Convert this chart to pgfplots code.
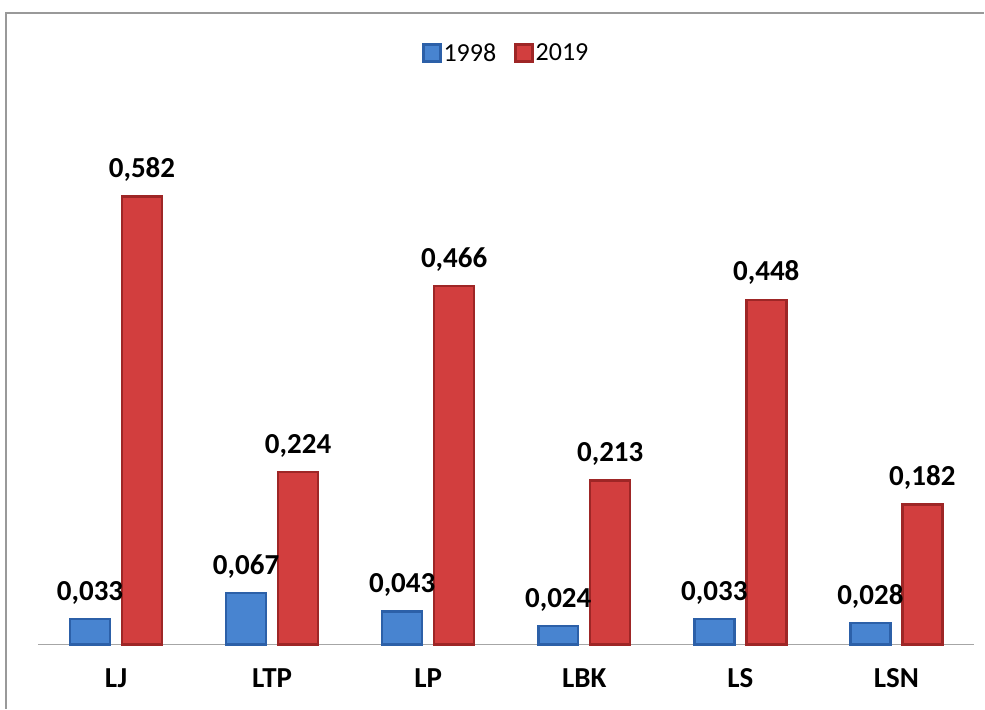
\documentclass[border=0pt]{standalone}
\usepackage{fontspec}
\setmainfont{Carlito}
\usepackage{pgfplots}
\pgfplotsset{compat=1.18}

\definecolor{bluemain}{RGB}{72,132,208}
\definecolor{bluedark}{RGB}{44,96,168}
\definecolor{redmain}{RGB}{210,62,62}
\definecolor{reddark}{RGB}{158,38,38}

\begin{document}
\begin{tikzpicture}[x=1pt,y=1pt]
    % page extent and chart frame
    \path (0,0) rectangle (985,709);
    \draw[gray!80, line width=1.2pt] (6,0) -- (6,696) -- (985,696);

    \begin{axis}[
        at={(38pt,64pt)}, anchor=south west,
        scale only axis,
        width=937pt, height=539pt,
        xmin=-0.5, xmax=5.5,
        ymin=0, ymax=0.7,
        axis x line*=bottom,
        axis y line=none,
        x axis line style={gray!70, line width=1pt, -},
        xtick={0,...,5},
        xticklabels={LJ,LTP,LP,LBK,LS,LSN},
        major tick length=0pt,
        xticklabel style={font=\fontsize{29}{32}\selectfont\bfseries, anchor=base, yshift=-43pt},
        ytick=\empty,
        ybar=12pt,
        bar width=40pt,
        nodes near coords,
        /pgf/number format/.cd, fixed, precision=3, zerofill, use comma, assume math mode=true,
        /pgfplots/.cd,
        every node near coord/.append style={font=\fontsize{29}{32}\selectfont\bfseries,
            anchor=base, inner sep=0pt, yshift=19pt, text=black},
        legend style={at={(0.5,1.098)}, anchor=center, draw=none,
            font=\fontsize{26}{30}\selectfont, legend columns=-1,
            /tikz/every even column/.append style={column sep=16pt}},
        legend image code/.code={
            \fill[#1] (0pt,-8.5pt) rectangle (17pt,8.5pt);
        },
        clip=false,
    ]
        \addplot[fill=bluemain, draw=bluedark, line width=2.5pt]
            coordinates {(0,0.033) (1,0.067) (2,0.043) (3,0.024) (4,0.033) (5,0.028)};
        \addplot[fill=redmain, draw=reddark, line width=2.5pt]
            coordinates {(0,0.582) (1,0.224) (2,0.466) (3,0.213) (4,0.448) (5,0.182)};
        \legend{1998,2019}
    \end{axis}
\end{tikzpicture}
\end{document}
